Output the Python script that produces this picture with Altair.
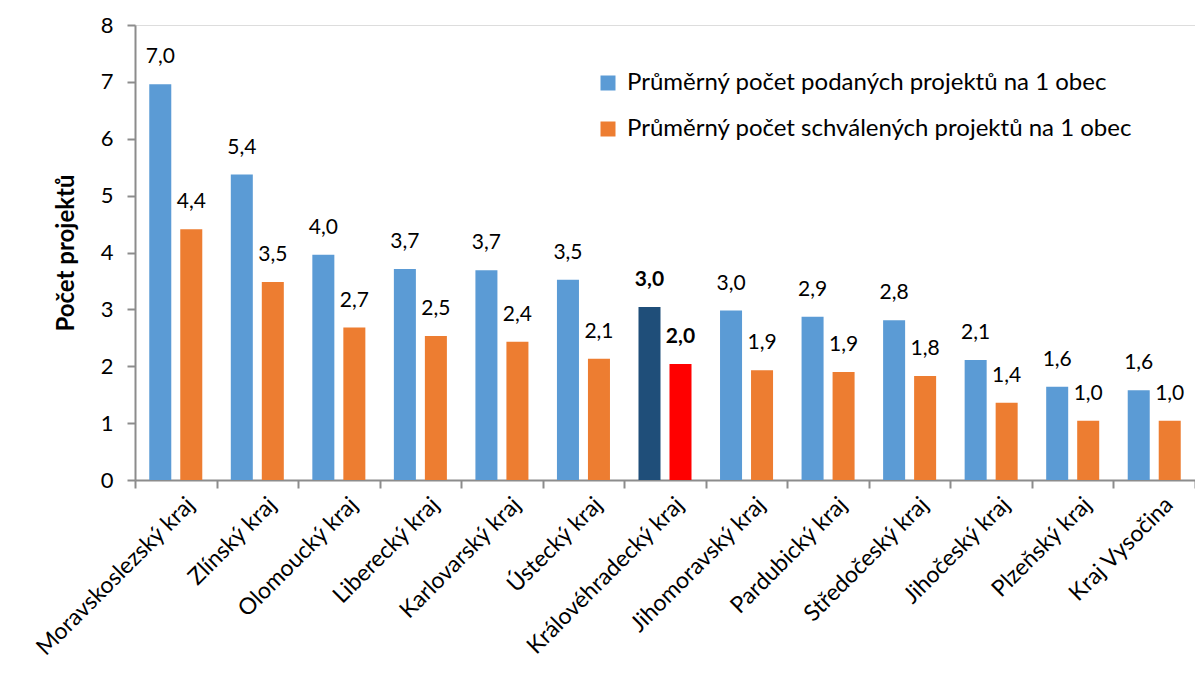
import altair as alt
import pandas as pd

kraje = [
    "Moravskoslezský kraj", "Zlínský kraj", "Olomoucký kraj", "Liberecký kraj",
    "Karlovarský kraj", "Ústecký kraj", "Královéhradecký kraj", "Jihomoravský kraj",
    "Pardubický kraj", "Středočeský kraj", "Jihočeský kraj", "Plzeňský kraj", "Kraj Vysočina",
]
podane = [6.96, 5.37, 3.96, 3.71, 3.69, 3.52, 3.04, 2.98, 2.87, 2.81, 2.11, 1.64, 1.58]
schvalene = [4.41, 3.48, 2.68, 2.53, 2.43, 2.13, 2.04, 1.93, 1.90, 1.83, 1.36, 1.04, 1.04]
serie = [
    "Průměrný počet podaných projektů na 1 obec",
    "Průměrný počet schválených projektů na 1 obec",
]
zvyrazneny = "Královéhradecký kraj"
barvy = ["#5B9BD5", "#ED7D31"]
barvy_zvyraznene = ["#1F4E79", "#FF0000"]

rows = []
for k, p, s in zip(kraje, podane, schvalene):
    for name, v in zip(serie, [p, s]):
        hl = k == zvyrazneny
        rows.append({
            "kraj": k,
            "serie": name,
            "hodnota": v,
            "popisek": f"{v:.1f}".replace(".", ","),
            "klic": name + (" (zvýrazněno)" if hl else ""),
            "zvyraznit": hl,
        })
df = pd.DataFrame(rows)

FONT = "Lato"
AXIS_GRAY = "#8C8C8C"

x = alt.X(
    "kraj:N", sort=kraje, title=None,
    scale=alt.Scale(paddingInner=0, paddingOuter=0),
    axis=alt.Axis(labelAngle=-45, labelFontSize=23, labelFont=FONT, labelColor="black",
                  tickBand="extent", tickSize=8, labelPadding=5, labelOffset=7,
                  labelLimit=400, domainColor=AXIS_GRAY, tickColor=AXIS_GRAY,
                  domainWidth=2, tickWidth=2),
)
xo = alt.XOffset("serie:N", sort=serie,
                 scale=alt.Scale(paddingInner=0.29, paddingOuter=0.46))
y = alt.Y(
    "hodnota:Q", scale=alt.Scale(domain=[0, 8], nice=False),
    axis=alt.Axis(values=list(range(9)), title="Počet projektů", titleFont=FONT,
                  titleFontSize=24, titleFontWeight="bold", titleColor="black",
                  titlePadding=22, labelFont=FONT, labelFontSize=22, labelColor="black",
                  labelPadding=14, tickSize=8, domainColor=AXIS_GRAY, tickColor=AXIS_GRAY,
                  domainWidth=2, tickWidth=2, grid=False),
)

color = alt.Color(
    "klic:N",
    scale=alt.Scale(domain=serie + [s + " (zvýrazněno)" for s in serie],
                    range=barvy + barvy_zvyraznene),
    legend=alt.Legend(values=serie, title=None, orient="none", legendX=461, legendY=46,
                      symbolType="square", symbolSize=225, symbolStrokeWidth=0,
                      labelFont=FONT, labelFontSize=24, labelColor="black",
                      labelOffset=7, rowPadding=22, labelLimit=700),
)

base = alt.Chart(df)
bars = base.mark_bar().encode(x=x, xOffset=xo, y=y, color=color)
texty = base.mark_text(font=FONT, fontSize=21, baseline="alphabetic", dy=-21,
                       color="black").encode(x=x, xOffset=xo, y=y, text="popisek:N"
                       ).transform_filter("!datum.zvyraznit")
texty_b = base.mark_text(font=FONT, fontSize=21, fontWeight="bold", baseline="alphabetic",
                         dy=-21, color="black").encode(x=x, xOffset=xo, y=y, text="popisek:N"
                         ).transform_filter("datum.zvyraznit")

chart = alt.layer(bars, texty, texty_b).properties(
    width=1060, height=455,
    autosize=alt.AutoSizeParams(type="none"),
    padding={"left": 127, "top": 17, "right": 0, "bottom": 187},
).configure_view(stroke=None).configure(background="white")

chart.save("out.html", embed_options={"renderer": "svg", "actions": False})
